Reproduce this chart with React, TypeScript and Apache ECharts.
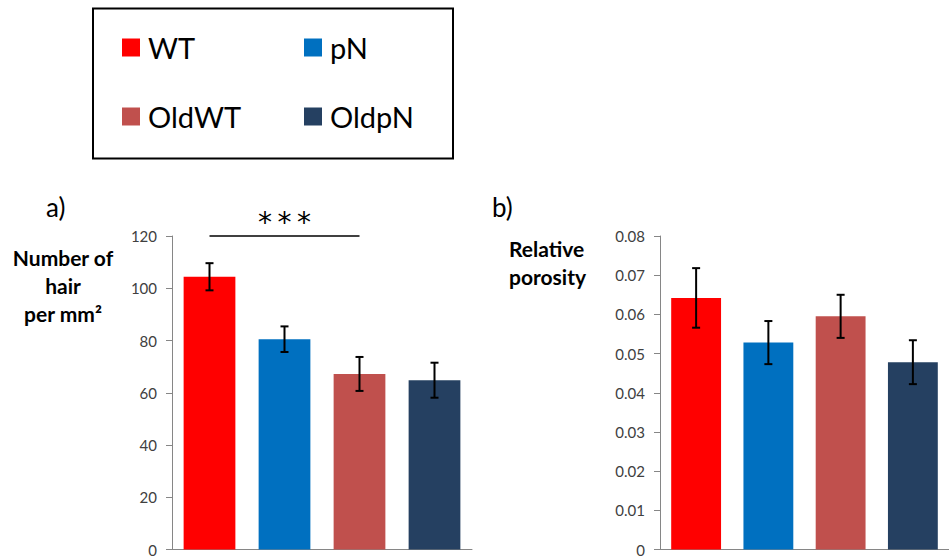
import React, { useEffect, useRef } from "react";
import * as echarts from "echarts";

const categories = ["WT", "pN", "OldWT", "OldpN"];
const colors = ["#FF0000", "#0070C0", "#C0504D", "#254061"];
const hairMean = [104.4, 80.5, 67.2, 64.8];
const hairErr = [5.2, 4.9, 6.5, 6.7];
const porosityMean = [0.0642, 0.0528, 0.0595, 0.0478];
const porosityErr = [0.0076, 0.0055, 0.0055, 0.0056];
const hairTicks = { min: 0, max: 120, interval: 20 };
const porosityTicks = { min: 0, max: 0.08, interval: 0.01 };

const FONT = "Lato, 'Noto Sans', sans-serif";
const AXIS_GRAY = "#868686";
const LABEL_GRAY = "#404040";

function barSeries(means: number[], gridIdx: number, withSig: boolean) {
  return categories.map((name, i) => {
    const s: any = {
      name,
      type: "bar",
      xAxisIndex: gridIdx,
      yAxisIndex: gridIdx,
      stack: "g" + gridIdx,
      barWidth: "69%",
      itemStyle: { color: colors[i] },
      data: means.map((v, j) => (j === i ? v : "-")),
      z: 2,
    };
    if (withSig && i === 0) {
      s.markLine = {
        silent: true,
        symbol: ["none", "none"],
        lineStyle: { color: "#000", width: 1.5, type: "solid" },
        label: {
          show: true,
          position: "middle",
          formatter: "*\u2009*\u2009*",
          fontSize: 28,
          fontFamily: "'DejaVu Sans', sans-serif",
          color: "#000",
          distance: 0,
        },
        data: [[{ coord: [0, 120] }, { coord: [2, 120] }]],
      };
    }
    return s;
  });
}

function errSeries(means: number[], errs: number[], gridIdx: number) {
  return {
    type: "custom",
    xAxisIndex: gridIdx,
    yAxisIndex: gridIdx,
    z: 5,
    encode: { x: 0, y: [1, 2] },
    data: means.map((m, i) => [i, m - errs[i], m + errs[i]]),
    renderItem: (params: any, api: any) => {
      const x = api.value(0);
      const p1 = api.coord([x, api.value(1)]);
      const p2 = api.coord([x, api.value(2)]);
      const w = 4;
      const st = { stroke: "#000", lineWidth: 2 };
      return {
        type: "group",
        children: [
          { type: "line", shape: { x1: p1[0], y1: p1[1], x2: p2[0], y2: p2[1] }, style: st },
          { type: "line", shape: { x1: p1[0] - w, y1: p1[1], x2: p1[0] + w, y2: p1[1] }, style: st },
          { type: "line", shape: { x1: p2[0] - w, y1: p2[1], x2: p2[0] + w, y2: p2[1] }, style: st },
        ],
      };
    },
  };
}

function yAxis(gridIdx: number, t: { min: number; max: number; interval: number }, fmt: (v: number) => string) {
  return {
    type: "value",
    gridIndex: gridIdx,
    min: t.min,
    max: t.max,
    interval: t.interval,
    axisLine: { show: true, lineStyle: { color: AXIS_GRAY, width: 1 } },
    axisTick: { show: true, length: 6, lineStyle: { color: AXIS_GRAY } },
    splitLine: { show: false },
    axisLabel: { color: LABEL_GRAY, fontSize: 15, fontFamily: FONT, margin: 15, formatter: fmt },
  };
}

function xAxis(gridIdx: number) {
  return {
    type: "category",
    gridIndex: gridIdx,
    data: categories,
    axisLine: { show: true, lineStyle: { color: AXIS_GRAY, width: 1 } },
    axisTick: { show: false },
    axisLabel: { show: false },
  };
}

export default function App() {
  const ref = useRef<HTMLDivElement>(null);
  useEffect(() => {
    document.body.style.margin = "0";
    const chart = echarts.init(ref.current!, null, { renderer: "svg" });
    const legendCommon = {
      orient: "vertical",
      top: 32.5,
      padding: 0,
      itemWidth: 18,
      itemHeight: 18,
      itemGap: 39,
      icon: "rect",
      selectedMode: false,
      textStyle: { fontSize: 29, lineHeight: 30, color: "#000", fontFamily: FONT, padding: [0, 0, 0, 3] },
    };
    chart.setOption({
      animation: false,
      backgroundColor: "#fff",
      grid: [
        { left: 172, top: 236, width: 300, height: 318 },
        { left: 660, top: 236, width: 295, height: 318 },
      ],
      xAxis: [xAxis(0), xAxis(1)],
      yAxis: [
        yAxis(0, hairTicks, (v: number) => String(v)),
        yAxis(1, porosityTicks, (v: number) => (v === 0 ? "0" : v.toFixed(2))),
      ],
      legend: [
        { ...legendCommon, left: 122, data: ["WT", "OldWT"] },
        { ...legendCommon, left: 304, data: ["pN", "OldpN"] },
      ],
      graphic: [
        {
          type: "rect",
          shape: { x: 93, y: 8.5, width: 360, height: 150 },
          style: { fill: "none", stroke: "#000", lineWidth: 2 },
        },
        {
          type: "text",
          x: 46,
          y: 207,
          style: { text: "a)", font: `26px ${FONT}`, fill: "#000", verticalAlign: "middle" },
        },
        {
          type: "text",
          x: 492,
          y: 207,
          style: { text: "b)", font: `26px ${FONT}`, fill: "#000", verticalAlign: "middle" },
        },
        {
          type: "text",
          x: 63,
          y: 243,
          style: {
            text: "Number of\nhair\nper mm²",
            font: `bold 21px ${FONT}`,
            lineHeight: 28,
            fill: "#000",
            align: "center",
            verticalAlign: "top",
          },
        },
        {
          type: "text",
          x: 509,
          y: 234,
          style: {
            text: "Relative\nporosity",
            font: `bold 21px ${FONT}`,
            lineHeight: 28,
            fill: "#000",
            align: "left",
            verticalAlign: "top",
          },
        },
      ],
      series: [
        ...barSeries(hairMean, 0, true),
        errSeries(hairMean, hairErr, 0),
        ...barSeries(porosityMean, 1, false),
        errSeries(porosityMean, porosityErr, 1),
      ],
    });
    return () => chart.dispose();
  }, []);
  return <div ref={ref} style={{ width: 949, height: 557 }} />;
}
